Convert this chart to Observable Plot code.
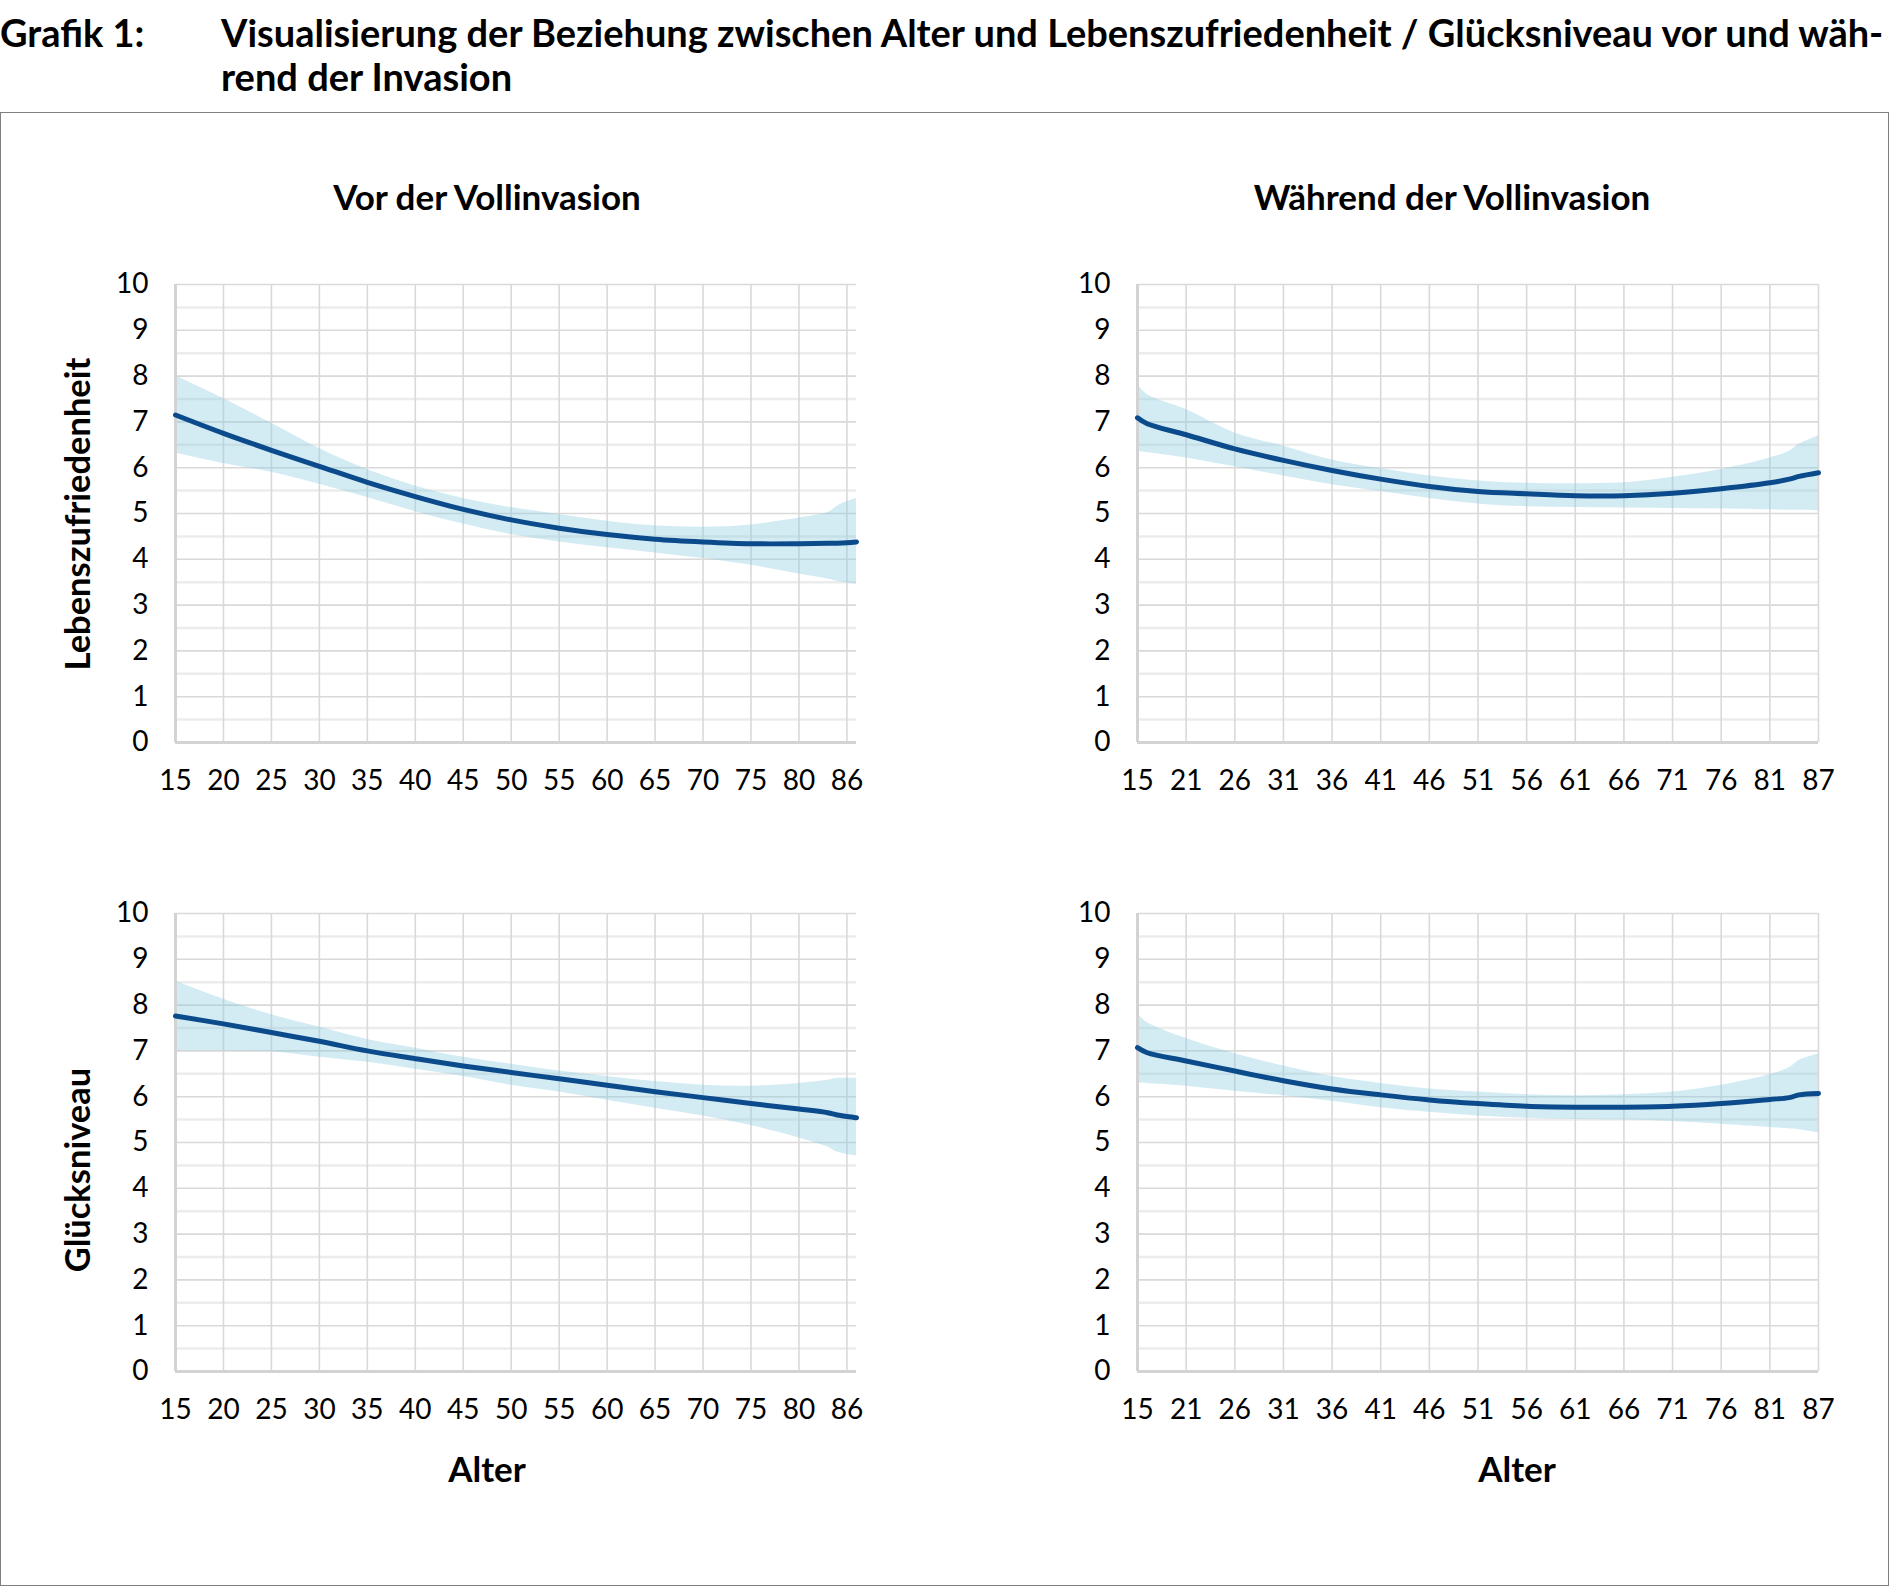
<!DOCTYPE html>
<html>
<head>
<meta charset="utf-8">
<script src="https://cdn.jsdelivr.net/npm/d3@7"></script>
<script src="https://cdn.jsdelivr.net/npm/@observablehq/plot@0.6"></script>
<style>
  body { margin: 0; background: #fff; font-family: Lato, "Noto Sans", sans-serif; color: #000; }
  #page { position: relative; width: 1891px; height: 1587px; overflow: hidden; }
  .t { position: absolute; font-weight: 700; white-space: nowrap; }
  .title { font-size: 38px; line-height: 44px; }
  .ptitle { font-size: 35px; line-height: 35px; transform: translateX(-50%); }
  .ylab { font-size: 34.5px; line-height: 35px; transform: translate(-50%, -50%) rotate(-90deg); }
  #frame { position: absolute; left: 0; top: 112px; width: 1887px; height: 1472px; border: 1px solid #808080; }
  .chart { position: absolute; }
</style>
</head>
<body>
<div id="page">
  <div class="t title" style="left:0;top:10px;">Grafik 1:</div>
  <div class="t title" style="left:221px;top:10px;">Visualisierung der Beziehung zwischen Alter und Lebenszufriedenheit / Glücksniveau vor und wäh-<br>rend der Invasion</div>
  <div id="frame"></div>
  <div class="t ptitle" style="left:487px;top:179px;">Vor der Vollinvasion</div>
  <div class="t ptitle" style="left:1452px;top:179px;">Während der Vollinvasion</div>
  <div class="t ylab" style="left:76px;top:514px;">Lebenszufriedenheit</div>
  <div class="t ylab" style="left:76px;top:1170px;">Glücksniveau</div>
  <div class="t ptitle" style="left:487px;top:1451px;">Alter</div>
  <div class="t ptitle" style="left:1517px;top:1451px;">Alter</div>
</div>
<script>
// Category axis: tick positions (category index) and their labels
const tickIdx = [0, 5, 10, 15, 20, 25, 30, 35, 40, 45, 50, 55, 60, 65, 70];
const ticksVor = [15, 20, 25, 30, 35, 40, 45, 50, 55, 60, 65, 70, 75, 80, 86];
const ticksWaehrend = [15, 21, 26, 31, 36, 41, 46, 51, 56, 61, 66, 71, 76, 81, 87];
const nVor = 72;       // number of age categories before the invasion
const nWaehrend = 71;  // number of age categories during the invasion
const yTicks = [0, 1, 2, 3, 4, 5, 6, 7, 8, 9, 10];

// Lebenszufriedenheit – vor der Vollinvasion
const lzVorIdx  = [0, 5, 10, 15, 20, 25, 30, 35, 40, 45, 50, 55, 60, 65, 68, 69, 70, 71];
const lzVorMean = [7.15, 6.75, 6.38, 6.03, 5.68, 5.37, 5.09, 4.86, 4.68, 4.54, 4.44, 4.38, 4.34, 4.34, 4.35, 4.35, 4.36, 4.38];
const lzVorHi   = [8.01, 7.51, 6.97, 6.42, 5.96, 5.60, 5.33, 5.13, 4.98, 4.83, 4.73, 4.70, 4.75, 4.90, 5.02, 5.16, 5.26, 5.33];
const lzVorLo   = [6.32, 6.09, 5.90, 5.64, 5.35, 5.04, 4.77, 4.54, 4.38, 4.25, 4.14, 4.02, 3.87, 3.68, 3.57, 3.52, 3.48, 3.45];

// Lebenszufriedenheit – während der Vollinvasion
const lzWaeIdx  = [0, 1, 5, 10, 15, 20, 25, 30, 35, 40, 45, 50, 55, 60, 65, 67, 68, 70];
const lzWaeMean = [7.09, 6.96, 6.72, 6.41, 6.16, 5.94, 5.75, 5.59, 5.48, 5.43, 5.39, 5.39, 5.44, 5.54, 5.67, 5.75, 5.81, 5.89];
const lzWaeHi   = [7.82, 7.60, 7.27, 6.76, 6.47, 6.17, 5.98, 5.82, 5.71, 5.66, 5.65, 5.67, 5.79, 5.96, 6.21, 6.36, 6.51, 6.70];
const lzWaeLo   = [6.36, 6.33, 6.21, 6.02, 5.82, 5.63, 5.48, 5.33, 5.21, 5.15, 5.13, 5.12, 5.11, 5.10, 5.08, 5.07, 5.07, 5.06];

// Glücksniveau – vor der Vollinvasion
const glVorIdx  = [0, 5, 10, 15, 20, 25, 30, 35, 40, 45, 50, 55, 60, 65, 68, 69, 71];
const glVorMean = [7.76, 7.59, 7.40, 7.21, 7.00, 6.83, 6.67, 6.53, 6.39, 6.25, 6.11, 5.98, 5.85, 5.73, 5.65, 5.60, 5.54];
const glVorHi   = [8.52, 8.13, 7.79, 7.52, 7.25, 7.06, 6.86, 6.71, 6.56, 6.44, 6.33, 6.25, 6.23, 6.29, 6.36, 6.40, 6.40];
const glVorLo   = [7.00, 7.00, 6.98, 6.86, 6.75, 6.60, 6.44, 6.25, 6.10, 5.92, 5.75, 5.58, 5.37, 5.10, 4.90, 4.79, 4.70];

// Glücksniveau – während der Vollinvasion
const glWaeIdx  = [0, 1, 5, 10, 15, 20, 25, 30, 35, 40, 45, 50, 55, 60, 65, 67, 68, 70];
const glWaeMean = [7.07, 6.96, 6.78, 6.56, 6.35, 6.17, 6.04, 5.93, 5.85, 5.79, 5.77, 5.77, 5.79, 5.85, 5.94, 5.98, 6.04, 6.07];
const glWaeHi   = [7.81, 7.62, 7.27, 6.94, 6.67, 6.44, 6.29, 6.17, 6.10, 6.04, 6.02, 6.04, 6.10, 6.25, 6.48, 6.63, 6.79, 6.93];
const glWaeLo   = [6.30, 6.29, 6.23, 6.12, 6.02, 5.90, 5.76, 5.66, 5.58, 5.53, 5.50, 5.49, 5.46, 5.40, 5.33, 5.30, 5.28, 5.21];

const ML = 90, MR = 40, MT = 20, MB = 60, PW = 681, PH = 458;

function panel(idx, mean, lo, hi, n, labels, left, top) {
  const data = idx.map((i, k) => ({ i, m: mean[k], lo: lo[k], hi: hi[k] }));
  const chart = Plot.plot({
    width: ML + PW + MR,
    height: MT + PH + MB,
    marginLeft: ML, marginRight: MR, marginTop: MT, marginBottom: MB,
    x: { domain: [0, n - 1], axis: null },
    y: { domain: [0, 10], axis: null },
    style: { fontFamily: "Lato, 'Noto Sans', sans-serif", fontSize: "28px", color: "#000", background: "transparent", overflow: "visible" },
    marks: [
      Plot.ruleY(d3.range(0.5, 10, 1), { stroke: "#ececec", strokeWidth: 2.5 }),
      Plot.ruleY(yTicks.filter(d => d > 0), { stroke: "#d9d9d9", strokeWidth: 1.6 }),
      Plot.ruleX(tickIdx.filter(d => d > 0), { stroke: "#d9d9d9", strokeWidth: 1.6 }),
      Plot.areaY(data, { x: "i", y1: "lo", y2: "hi", curve: "catmull-rom", fill: "#8ccbe0", fillOpacity: 0.38 }),
      Plot.ruleX([0], { stroke: "#d3d3d3", strokeWidth: 3 }),
      Plot.ruleY([0], { stroke: "#d3d3d3", strokeWidth: 3 }),
      Plot.lineY(data, { x: "i", y: "m", curve: "catmull-rom", stroke: "#0b4a8b", strokeWidth: 5, strokeLinecap: "round" }),
      Plot.axisX({ ticks: tickIdx, tickFormat: d => String(labels[tickIdx.indexOf(d)]), tickSize: 0, tickPadding: 28, fontSize: 28, label: null }),
      Plot.axisY({ ticks: yTicks, tickSize: 0, tickPadding: 27, fontSize: 28, label: null })
    ]
  });
  chart.classList.add("chart");
  chart.style.left = (left - ML) + "px";
  chart.style.top = (top - MT) + "px";
  document.getElementById("page").appendChild(chart);
}

panel(lzVorIdx, lzVorMean, lzVorLo, lzVorHi, nVor, ticksVor, 175, 284);
panel(lzWaeIdx, lzWaeMean, lzWaeLo, lzWaeHi, nWaehrend, ticksWaehrend, 1137, 284);
panel(glVorIdx, glVorMean, glVorLo, glVorHi, nVor, ticksVor, 175, 913);
panel(glWaeIdx, glWaeMean, glWaeLo, glWaeHi, nWaehrend, ticksWaehrend, 1137, 913);
</script>
</body>
</html>
